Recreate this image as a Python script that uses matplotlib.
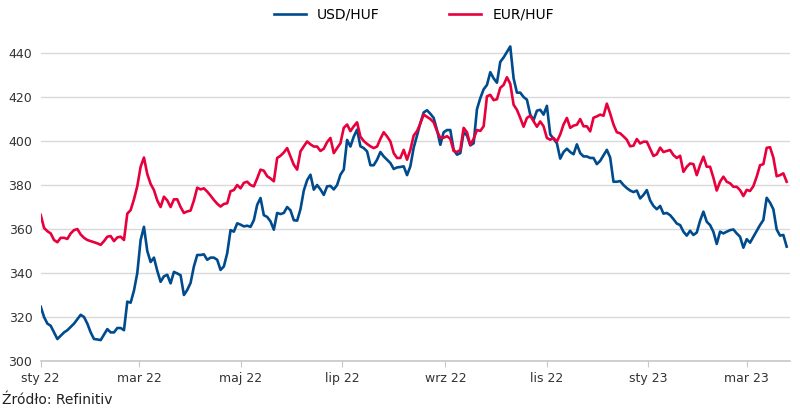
import matplotlib
matplotlib.use('Agg')
import matplotlib.pyplot as plt
import pandas as pd

# kursy co 2 dni
dates = pd.date_range('2022-01-01', periods=225, freq='2D')

usd_huf = [
    324.7, 320, 317, 316, 313, 310, 311.5, 313, 314, 315.5, 317, 319, 321, 320, 317,
    313, 310, 309.8, 309.5, 312, 314.5, 313, 313, 315, 315, 314, 327, 326.5, 332, 340,
    355, 361, 350, 345, 347, 341, 336, 338.5, 339.2, 335.3, 340.5, 339.8, 339, 330, 332.3,
    335.5, 343, 348.2, 348.2, 348.5, 346, 347, 347, 346, 341.4, 343, 349, 359.5, 358.8, 362.6,
    362, 361.2, 361.5, 361, 364, 371, 374.1, 366.3, 365.5, 363.5, 359.7, 367.3, 366.8, 367.3, 370,
    368.5, 364, 363.8, 369, 377.5, 382.2, 384.7, 377.9, 380, 378, 375.5, 379.4, 379.6, 378, 380,
    384.7, 387, 400.5, 397.5, 402, 405.2, 397.6, 396.8, 395.3, 389, 389, 391.5, 395, 393, 391.5,
    390, 387.3, 388, 388.2, 388.5, 384.5, 388.5, 397, 402.5, 408.2, 413, 414, 412.4, 410.5, 405,
    398.3, 404, 405, 405, 396, 393.8, 394.5, 404, 402.5, 398, 399, 414.5, 419.5, 423.5, 425.5,
    431.3, 428.5, 426.5, 436, 438, 440.5, 443, 428.5, 422, 422, 420, 418.8, 412, 409.5, 413.8,
    414.2, 412, 416, 403, 401, 399, 392, 395, 396.5, 395, 394, 398.5, 394.5, 393, 393,
    392.3, 392.3, 389.5, 391, 393.5, 396, 392.5, 381.5, 381.5, 381.8, 380, 378.6, 377.5, 376.8, 377.5,
    373.9, 375.5, 377.7, 373, 370.5, 369, 370.5, 367, 367.3, 366.3, 364.5, 362.5, 361.8, 358.8, 357,
    359.2, 357.3, 358.4, 363.8, 367.9, 363.3, 361.8, 358.7, 353.2, 358.8, 358, 358.8, 359.5, 359.8, 358,
    356.5, 351.5, 355.4, 353.8, 356.5, 359.2, 361.8, 364.1, 374.2, 372, 369, 359.8, 357, 357.3, 352,
]

eur_huf = [
    366.4, 360.5, 359, 358, 355, 354, 356, 356, 355.5, 358, 359.5, 360, 357.5, 356, 355,
    354.5, 354, 353.5, 352.8, 354.5, 356.5, 356.8, 354.5, 356.2, 356.5, 355, 367, 368.6, 373.5, 379.5,
    388.3, 392.5, 385, 380.5, 377.7, 373, 370, 374.7, 373, 370, 373.5, 373.5, 370, 367.3, 368,
    368.4, 373, 378.8, 378, 378.5, 377, 375.2, 373.2, 371.5, 370.2, 371.4, 371.7, 377.2, 377.7, 380,
    378.5, 381, 381.5, 380, 379.4, 383, 387, 386.5, 384, 383, 381.7, 392.3, 393.3, 394.8, 396.8,
    393, 389.2, 387, 395.3, 397.6, 399.8, 398.5, 397.5, 397.5, 395.5, 396.5, 399.5, 401.4, 394.5, 396.8,
    399, 406, 407.5, 404.5, 406.7, 408.5, 402, 400, 398.7, 397.6, 396.8, 397.5, 401, 404, 402.1,
    399.8, 394.5, 392.3, 392.3, 396, 391.5, 396, 402.5, 404.5, 408, 412, 411, 410, 408.5, 404.5,
    401.4, 401.5, 402.2, 401, 395.5, 395, 396, 406, 404, 398.3, 401, 405, 404.6, 406.7, 420.3,
    421, 418.6, 419, 424.2, 425.5, 429, 426, 416.5, 414.2, 410.5, 406.5, 410.5, 411.5, 409, 406.5,
    408.9, 406.7, 401.4, 400.6, 401.4, 399.8, 403, 407.5, 410.5, 406, 407, 407.4, 410, 406.7, 406.7,
    404.4, 410.6, 411.2, 412, 411.5, 417, 412.5, 407.5, 404, 403.5, 402.1, 400.6, 397.6, 397.9, 400.9,
    398.9, 399.7, 399.7, 396.5, 393.2, 394, 397, 395, 395.5, 395.9, 393.6, 392.3, 393.3, 386, 388.3,
    389.8, 389.5, 384.5, 389.1, 392.9, 388.3, 388.3, 383.3, 377.5, 381.5, 383.8, 381.5, 380.8, 379.2, 379.2,
    377.7, 375, 377.8, 377.3, 379.5, 383.8, 389, 389.5, 396.9, 397.2, 392.5, 384, 384.5, 385.3, 381.5,
]

tick_dates = pd.to_datetime(['2022-01-01', '2022-03-01', '2022-05-01', '2022-07-01',
                             '2022-09-01', '2022-11-01', '2023-01-01', '2023-03-01'])
tick_labels = ['sty 22', 'mar 22', 'maj 22', 'lip 22', 'wrz 22', 'lis 22', 'sty 23', 'mar 23']
y_ticks = [300, 320, 340, 360, 380, 400, 420, 440]

blue = '#004b8d'
red = '#e8003d'

fig = plt.figure(figsize=(8, 4.16), dpi=100)
ax = fig.add_axes([0.0509, 0.1322, 0.9366, 0.772])

ax.plot(dates, usd_huf, color=blue, lw=1.9, label='USD/HUF')
ax.plot(dates, eur_huf, color=red, lw=1.9, label='EUR/HUF')

ax.set_xlim(pd.Timestamp('2022-01-01'), pd.Timestamp('2023-03-27'))
ax.set_ylim(300, 446)
ax.set_yticks(y_ticks)
ax.set_xticks(tick_dates)
ax.set_xticklabels(tick_labels)

ax.grid(axis='y', color='#d9d9d9', lw=1)
ax.set_axisbelow(True)
for s in ['top', 'right', 'left']:
    ax.spines[s].set_visible(False)
ax.spines['bottom'].set_color('#c8c8c8')
ax.spines['bottom'].set_linewidth(1.2)

ax.tick_params(axis='y', length=0, pad=6, labelsize=9, labelcolor='#333333')
ax.tick_params(axis='x', length=4, color='#c8c8c8', pad=4, labelsize=9, labelcolor='#333333')

fig.legend(loc='center', bbox_to_anchor=(0.5175, 0.964), ncol=2, frameon=False,
           handlelength=2.3, columnspacing=5.0, fontsize=10)

fig.text(0.002, 0.038, 'Źródło: Refinitiv', fontsize=10, color='#222222', va='center')

fig.savefig('out.png', dpi=100)
